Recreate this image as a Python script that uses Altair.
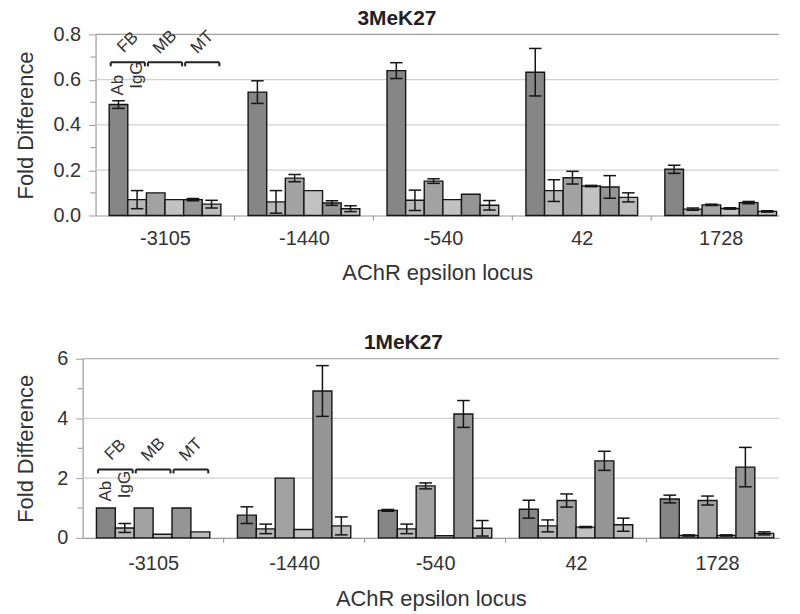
import json
import altair as alt
import pandas as pd

# ---------------- data ----------------
loci = ["-3105", "-1440", "-540", "42", "1728"]
series = ["FB Ab", "FB IgG", "MB Ab", "MB IgG", "MT Ab", "MT IgG"]

# 3MeK27 (top panel): rows = loci, columns = series
me3_values = [
    [0.49, 0.07, 0.10, 0.07, 0.07, 0.05],
    [0.545, 0.06, 0.165, 0.11, 0.055, 0.03],
    [0.64, 0.067, 0.152, 0.07, 0.094, 0.045],
    [0.633, 0.11, 0.167, 0.13, 0.126, 0.08],
    [0.204, 0.028, 0.047, 0.031, 0.057, 0.018],
]
me3_errors = [
    [0.017, 0.04, 0.0, 0.0, 0.005, 0.017],
    [0.05, 0.05, 0.016, 0.0, 0.01, 0.013],
    [0.035, 0.045, 0.01, 0.0, 0.0, 0.021],
    [0.105, 0.048, 0.028, 0.003, 0.05, 0.02],
    [0.018, 0.005, 0.003, 0.003, 0.005, 0.003],
]

# 1MeK27 (bottom panel)
me1_values = [
    [1.0, 0.33, 1.0, 0.12, 1.0, 0.2],
    [0.76, 0.3, 2.0, 0.28, 4.92, 0.4],
    [0.92, 0.3, 1.74, 0.07, 4.15, 0.32],
    [0.96, 0.4, 1.25, 0.36, 2.58, 0.44],
    [1.3, 0.08, 1.25, 0.08, 2.37, 0.15],
]
me1_errors = [
    [0.0, 0.15, 0.0, 0.0, 0.0, 0.0],
    [0.28, 0.16, 0.0, 0.0, 0.85, 0.3],
    [0.03, 0.16, 0.1, 0.0, 0.45, 0.26],
    [0.3, 0.2, 0.22, 0.02, 0.32, 0.22],
    [0.13, 0.02, 0.15, 0.02, 0.66, 0.05],
]

group_labels = ["FB", "MB", "MT"]
pair_labels = ["Ab", "IgG"]

# ---------------- style ----------------
FILLS = ["#868686", "#b8b8b8", "#a2a2a2", "#c2c2c2", "#959595", "#bbbbbb"]
FONT = "Liberation Sans"
TXT = "#333333"
AX = "#9a9a9a"
BW = 0.134      # bar width in band units
CAP = 0.045     # half cap width
GAP = 0.011     # gap at bracket ends


def long_table(values, errors):
    rows = []
    for g, locus in enumerate(loci):
        for s, name in enumerate(series):
            rows.append(dict(g=g, s=s, locus=locus, series=name,
                             value=values[g][s], err=errors[g][s]))
    return pd.DataFrame(rows)


def panel(values, errors, title, ymax, yticks, yfmt, minor, width, height, shift,
          xmax, xlab_pad, xtitle_pad, ytitle_pad, title_offset,
          bracket_y, bracket_drop, glab_y, plab_y):
    df = long_table(values, errors)
    xs = alt.Scale(domain=[-0.5, xmax], range=[-shift, width], nice=False, zero=False)
    ys = alt.Scale(domain=[0, ymax], nice=False, zero=True)

    xaxis = alt.Axis(
        values=list(range(len(loci))),
        labelExpr=f"{json.dumps(loci)}[datum.value]",
        ticks=False, tickSize=0, grid=False, domainColor=AX, domainWidth=1.2,
        labelFont=FONT, labelFontSize=20, labelColor=TXT, labelPadding=xlab_pad,
        title="AChR epsilon locus", titleFont=FONT, titleFontSize=22,
        titleFontWeight="normal", titleColor=TXT, titlePadding=xtitle_pad,
    )
    yaxis = alt.Axis(
        values=yticks, format=yfmt, tickSize=7, tickColor=AX, domainColor=AX,
        domainWidth=1.2, offset=shift,
        labelFont=FONT, labelFontSize=20, labelColor=TXT, labelPadding=8,
        title="Fold Difference", titleFont=FONT, titleFontSize=22,
        titleFontWeight="normal", titleColor=TXT, titlePadding=ytitle_pad,
        grid=False,
    )

    def X(field, **kw):
        return alt.X(field, scale=xs, axis=xaxis, **kw)

    def Y(field=alt.Undefined, **kw):
        return alt.Y(field, scale=ys, axis=yaxis, **kw)

    grid = alt.Chart(pd.DataFrame({"v": yticks[1:]})).mark_rule(strokeWidth=1.2).encode(
        y=Y("v:Q"), x=alt.value(-shift), x2=alt.value(width),
        color=alt.condition(f"datum.v == {ymax}", alt.value("#a0a0a0"), alt.value("#d0d0d0")),
    )

    base = alt.Chart(df).transform_calculate(
        xc=f"datum.g + (datum.s - 2.5) * {BW}"
    )
    bars = base.transform_calculate(
        x0=f"datum.xc - {BW / 2}", x1=f"datum.xc + {BW / 2}"
    ).mark_rect(stroke="#151515", strokeWidth=1.4).encode(
        x=X("x0:Q"),
        x2="x1:Q",
        y=Y("value:Q"),
        y2=alt.datum(0),
        fill=alt.Fill("series:N", scale=alt.Scale(domain=series, range=FILLS), legend=None),
    )

    eb = base.transform_filter("datum.err > 0").transform_calculate(
        lo="datum.value - datum.err", hi="datum.value + datum.err",
        cl=f"datum.xc - {CAP}", cr=f"datum.xc + {CAP}",
    )
    stems = eb.mark_rule(color="#151515", strokeWidth=1.5).encode(
        x=X("xc:Q"), y=Y("lo:Q"), y2="hi:Q")
    cap_hi = eb.mark_rule(color="#151515", strokeWidth=1.5).encode(
        x=X("cl:Q"), x2="cr:Q", y=Y("hi:Q"))
    cap_lo = eb.mark_rule(color="#151515", strokeWidth=1.5).encode(
        x=X("cl:Q"), x2="cr:Q", y=Y("lo:Q"))

    minor_rules = alt.Chart(pd.DataFrame({"v": minor})).mark_rule(
        color=AX, strokeWidth=1.1).encode(
        y=Y("v:Q"), x=alt.value(-shift - 5), x2=alt.value(-shift))

    bnd = alt.Chart(pd.DataFrame({"i": list(range(len(loci) - 1))})).transform_calculate(
        b="datum.i + 0.5").mark_rule(color=AX, strokeWidth=1.1).encode(
        x=X("b:Q"), y=alt.value(height), y2=alt.value(height + 5))

    br = alt.Chart(pd.DataFrame({"k": list(range(len(group_labels))),
                                 "label": group_labels})).transform_calculate(
        xl=f"(2 * datum.k - 2.5) * {BW} - {BW / 2} + {GAP}",
        xr=f"(2 * datum.k + 1 - 2.5) * {BW} + {BW / 2} - {GAP}",
    ).transform_calculate(xm="(datum.xl + datum.xr) / 2")
    br_line = br.mark_rule(color="#222222", strokeWidth=2).encode(
        x=X("xl:Q"), x2="xr:Q", y=Y(datum=bracket_y))
    br_left = br.mark_rule(color="#222222", strokeWidth=2).encode(
        x=X("xl:Q"), y=Y(datum=bracket_y), y2=alt.datum(bracket_y - bracket_drop))
    br_right = br.mark_rule(color="#222222", strokeWidth=2).encode(
        x=X("xr:Q"), y=Y(datum=bracket_y), y2=alt.datum(bracket_y - bracket_drop))
    br_text = br.mark_text(angle=315, font=FONT, fontSize=17, color=TXT,
                           align="center", baseline="middle").encode(
        x=X("xm:Q"), y=Y(datum=glab_y), text="label:N")

    pl = pd.DataFrame({"s": [0, 1], "label": pair_labels, "yy": plab_y})
    pair_text = alt.Chart(pl).transform_calculate(
        px=f"(datum.s - 2.5) * {BW}").mark_text(
        angle=270, font=FONT, fontSize=17, color=TXT,
        align="left", baseline="middle").encode(
        x=X("px:Q"), y=Y("yy:Q"), text="label:N")

    return alt.layer(
        grid, bars, stems, cap_hi, cap_lo, minor_rules, bnd,
        br_line, br_left, br_right, br_text, pair_text,
    ).properties(
        width=width, height=height,
        title=alt.TitleParams(title, font=FONT, fontSize=21, fontWeight="bold",
                              color="#222222", anchor="middle", offset=title_offset,
                              frame="bounds"),
    )


top = panel(me3_values, me3_errors, "3MeK27", 0.8, [0, 0.2, 0.4, 0.6, 0.8], ".1f",
            [0.1, 0.3, 0.5, 0.7], 687, 182, 0, 4.42, 13.5, 14, 16, -5,
            0.677, 0.018, 0.765, [0.53, 0.56])
bottom = panel(me1_values, me1_errors, "1MeK27", 6, [0, 2, 4, 6], "d",
               [1, 3, 5], 687, 180, 13, 4.44, 16, 15, 19, -4,
               2.29, 0.13, 2.95, [1.22, 1.33])

chart = alt.vconcat(top, bottom, spacing=48).properties(
    padding={"left": 6, "top": -1, "right": 0, "bottom": 0},
    background="white",
).configure_view(stroke=None)

chart.save("out.html", embed_options={"renderer": "svg", "actions": False})
